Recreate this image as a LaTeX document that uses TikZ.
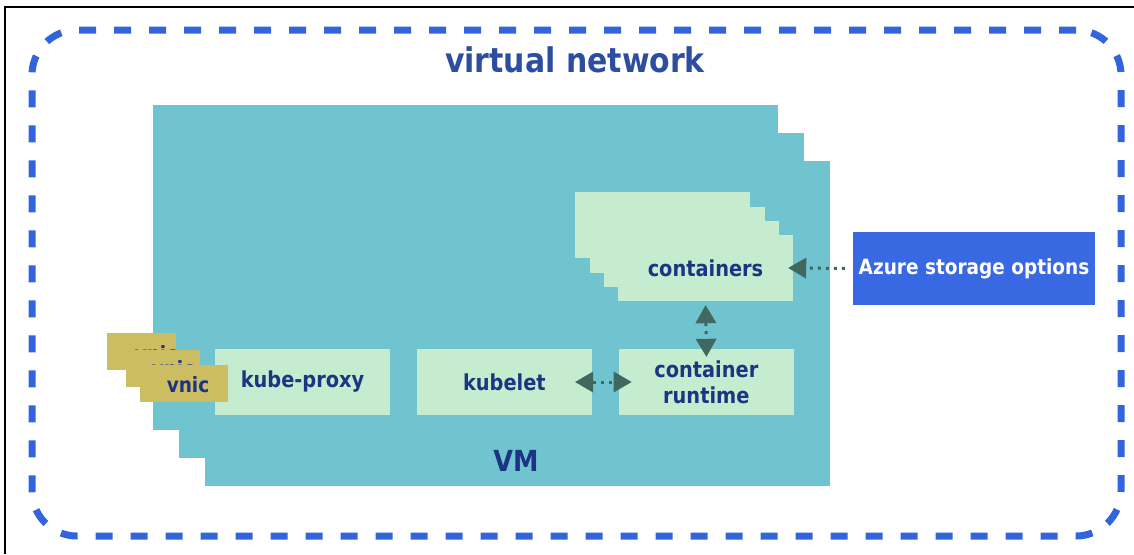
\documentclass[tikz,border=0pt]{standalone}
\usepackage{fontspec}
\newfontfamily\diagfont{DejaVu Sans}[FakeStretch=0.88]
\usetikzlibrary{positioning,arrows.meta}

\definecolor{netblue}{RGB}{50,100,222}
\definecolor{titleblue}{RGB}{45,78,160}
\definecolor{vmcyan}{RGB}{111,196,208}
\definecolor{palegreen}{RGB}{197,236,206}
\definecolor{nicgold}{RGB}{205,189,98}
\definecolor{labelnavy}{RGB}{28,52,130}
\definecolor{azureblue}{RGB}{56,104,226}
\definecolor{flowgreen}{RGB}{64,104,94}

\tikzset{
  frame/.style    = {draw=black, line width=2.5pt},
  vnet/.style     = {draw=netblue, line width=7pt, rounded corners=45pt,
                     dash pattern=on 17pt off 18pt,
                     minimum width=1089pt, minimum height=506pt, inner sep=0pt},
  nettitle/.style = {text=titleblue, font=\diagfont\bfseries\fontsize{34}{40}\selectfont},
  vmbox/.style    = {fill=vmcyan, minimum width=625pt, minimum height=325pt, inner sep=0pt},
  vmtitle/.style  = {text=labelnavy, font=\diagfont\bfseries\fontsize{29}{34}\selectfont},
  ctbox/.style    = {fill=palegreen, minimum width=175pt, minimum height=66pt,
                     inner sep=0pt, align=center, text=labelnavy,
                     font=\diagfont\bfseries\fontsize{22}{26}\selectfont},
  agent/.style    = {ctbox},
  nicbox/.style   = {fill=nicgold, minimum height=37pt, inner sep=0pt},
  niclbl/.style   = {text=labelnavy, inner sep=0pt,
                     font=\diagfont\bfseries\fontsize{21}{26}\selectfont},
  store/.style    = {fill=azureblue, minimum width=242pt, minimum height=73pt,
                     inner sep=0pt, text=white,
                     font=\diagfont\bfseries\fontsize{21}{26}\selectfont},
  flow/.style     = {draw=flowgreen, line width=3pt, dash pattern=on 3pt off 5pt},
  fhead/.tip      = {Triangle[length=18pt,width=21pt,fill=flowgreen,line width=0pt]}
}

\begin{document}
\begin{tikzpicture}[x=1pt, y=-1pt, node distance=26.5pt]
  \useasboundingbox (0,0) rectangle (1134,554);

  % page frame, only top and left edges are in view
  \draw[frame] (5,554) -- (5,7) -- (1134,7);

  % virtual network boundary
  \node[vnet] (vnet) at (576.5,283) {};
  \node[nettitle] (nettitle) at (575,60) {virtual network};

  % stacked VMs
  \node[vmbox] (vm1) at (465.5,267.5) {};
  \node[vmbox] (vm2) at (491.5,295.5) {};
  \node[vmbox] (vm3) at (517.5,323.5) {};
  \node[vmtitle] (vmlbl) at (516,461) {VM};

  % stacked containers, front one carries the label
  \node[ctbox] (ct1) at (662.5,225) {};
  \node[ctbox] (ct2) at (677,239.5) {};
  \node[ctbox] (ct3) at (691.5,254) {};
  \node[ctbox] (ct4) at (705.5,268) {containers};

  % node agents in a row
  \node[agent] (proxy) at (302.5,382) {kube-proxy};
  \node[agent, right=of proxy] (kubelet) {kubelet};
  \node[agent, right=of kubelet] (runtime) {container\\runtime};

  % stacked vnics on the VM edge
  \node[nicbox, minimum width=69pt] (nic1) at (141.5,351.5) {};
  \node[niclbl] (nic1lbl) at (156,354) {vnic};
  \node[nicbox, minimum width=74pt] (nic2) at (163,368.5) {};
  \node[niclbl] (nic2lbl) at (173,369) {vnic};
  \node[nicbox, minimum width=88pt] (nic3) at (184,383) {};
  \node[niclbl] (nic3lbl) at (188,385) {vnic};

  % storage outside the VM
  \node[store] (azure) at (974,268.5) {Azure storage options};

  % dotted links
  \draw[flow, -fhead, shorten <=8pt, shorten >=-5pt]
    (azure.west) -- (ct4.east);
  \draw[flow, fhead-fhead, shorten <=4pt, shorten >=-8pt]
    (ct4.south) -- (runtime.north);
  \draw[flow, fhead-fhead, shorten <=-17pt, shorten >=-13pt]
    (kubelet.east) -- (runtime.west);

\end{tikzpicture}
\end{document}
